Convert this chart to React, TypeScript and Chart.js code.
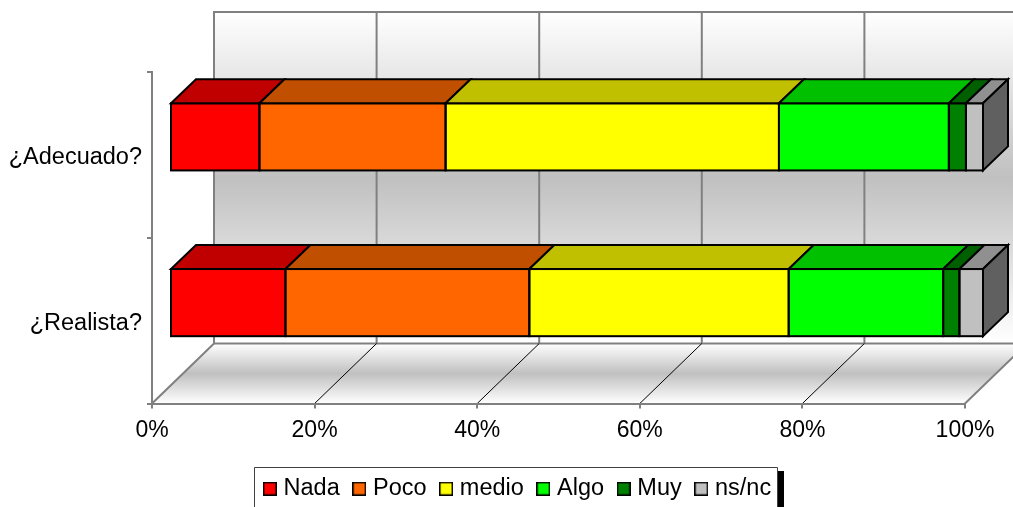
import React, { useEffect, useRef } from "react";
import { Chart, registerables } from "chart.js";

Chart.register(...registerables);

const categories = ["¿Adecuado?", "¿Realista?"];
const nada = [11, 14.2];
const poco = [22.9, 30];
const medio = [41, 31.9];
const algo = [20.9, 19];
const muy = [2.1, 2];
const nsnc = [2.1, 2.9];
const tickValues = [0, 20, 40, 60, 80, 100];

const seriesNames = ["Nada", "Poco", "medio", "Algo", "Muy", "ns/nc"];
const seriesValues = [nada, poco, medio, algo, muy, nsnc];
const frontColors = ["#ff0000", "#ff6600", "#ffff00", "#00ff00", "#008000", "#c0c0c0"];
const topColors = ["#c00000", "#c05000", "#c0c000", "#00c000", "#006000", "#909090"];
const sideColor = "#606060";

const FONT = '"Liberation Sans", Arial, sans-serif';
const WALL_DX = 62;
const WALL_DY = -60;
const BAR_DX = 18;
const BAR_DY = -18;
const DEPTH_X = 25;
const DEPTH_Y = -24;
const GRID = "#808080";

function swatch(color: string) {
  const c = document.createElement("canvas");
  c.width = 14;
  c.height = 14;
  const g = c.getContext("2d")!;
  g.fillStyle = "#000";
  g.fillRect(0, 0, 14, 14);
  g.fillStyle = color;
  g.fillRect(1.5, 1.5, 11, 11);
  return c;
}

const scene3d = {
  id: "scene3d",
  afterLayout(chart: any) {
    // let the long category labels extend beyond the axis box instead of being clipped
    chart.scales.y.left = 0;
  },
  beforeDraw(chart: any) {
    const { ctx, chartArea, scales } = chart;
    const { left, right, top, bottom } = chartArea;
    const wallTop = top + WALL_DY;
    const wallBottom = bottom + WALL_DY;
    ctx.save();
    // back wall
    const wg = ctx.createLinearGradient(0, wallTop, 0, wallBottom);
    wg.addColorStop(0, "#ffffff");
    wg.addColorStop(0.5, "#c0c0c0");
    wg.addColorStop(1, "#ffffff");
    ctx.fillStyle = wg;
    ctx.fillRect(left + WALL_DX, wallTop, right - left, bottom - top);
    // floor
    const fg = ctx.createLinearGradient(0, wallBottom, 0, bottom);
    fg.addColorStop(0, "#ffffff");
    fg.addColorStop(0.5, "#c0c0c0");
    fg.addColorStop(1, "#ffffff");
    ctx.fillStyle = fg;
    ctx.beginPath();
    ctx.moveTo(left, bottom);
    ctx.lineTo(right, bottom);
    ctx.lineTo(right + WALL_DX, wallBottom);
    ctx.lineTo(left + WALL_DX, wallBottom);
    ctx.closePath();
    ctx.fill();
    // wall outline and vertical grid
    ctx.strokeStyle = GRID;
    ctx.lineWidth = 2;
    ctx.strokeRect(left + WALL_DX, wallTop, right - left, bottom - top);
    for (const v of tickValues.slice(1, -1)) {
      const x = scales.x.getPixelForValue(v) + WALL_DX;
      ctx.beginPath();
      ctx.moveTo(x, wallTop);
      ctx.lineTo(x, wallBottom);
      ctx.stroke();
    }
    // floor edges
    ctx.beginPath();
    ctx.moveTo(left, bottom);
    ctx.lineTo(left + WALL_DX, wallBottom);
    ctx.moveTo(right, bottom);
    ctx.lineTo(right + WALL_DX, wallBottom);
    ctx.stroke();
    // floor grid
    ctx.strokeStyle = "#000";
    ctx.lineWidth = 1;
    for (const v of tickValues.slice(1, -1)) {
      const x = scales.x.getPixelForValue(v);
      ctx.beginPath();
      ctx.moveTo(x, bottom);
      ctx.lineTo(x + WALL_DX, wallBottom);
      ctx.stroke();
    }
    ctx.restore();
  },
  beforeDatasetsDraw(chart: any) {
    chart.ctx.save();
    chart.ctx.translate(BAR_DX, BAR_DY);
  },
  afterDatasetsDraw(chart: any) {
    const ctx = chart.ctx;
    ctx.lineWidth = 2;
    ctx.strokeStyle = "#000";
    ctx.lineJoin = "miter";
    const n = chart.data.datasets.length;
    chart.data.datasets.forEach((_: any, di: number) => {
      chart.getDatasetMeta(di).data.forEach((el: any) => {
        const x0 = el.base;
        const x1 = el.x;
        const y0 = el.y - el.height / 2;
        const y1 = el.y + el.height / 2;
        ctx.strokeRect(x0, y0, x1 - x0, y1 - y0);
        ctx.beginPath();
        ctx.moveTo(x0, y0);
        ctx.lineTo(x1, y0);
        ctx.lineTo(x1 + DEPTH_X, y0 + DEPTH_Y);
        ctx.lineTo(x0 + DEPTH_X, y0 + DEPTH_Y);
        ctx.closePath();
        ctx.fillStyle = topColors[di];
        ctx.fill();
        ctx.stroke();
        if (di === n - 1) {
          ctx.beginPath();
          ctx.moveTo(x1, y0);
          ctx.lineTo(x1 + DEPTH_X, y0 + DEPTH_Y);
          ctx.lineTo(x1 + DEPTH_X, y1 + DEPTH_Y);
          ctx.lineTo(x1, y1);
          ctx.closePath();
          ctx.fillStyle = sideColor;
          ctx.fill();
          ctx.stroke();
        }
      });
    });
    ctx.restore();
  },
  afterDraw(chart: any) {
    const ctx = chart.ctx;
    ctx.save();
    ctx.strokeStyle = "#404040";
    ctx.lineWidth = 1;
    ctx.beginPath();
    ctx.moveTo(254.5, 507);
    ctx.lineTo(254.5, 467.5);
    ctx.lineTo(777.5, 467.5);
    ctx.lineTo(777.5, 507);
    ctx.stroke();
    ctx.fillStyle = "#000";
    ctx.fillRect(778, 471, 6, 36);
    ctx.restore();
  },
};

export default function App() {
  const ref = useRef<HTMLCanvasElement>(null);
  useEffect(() => {
    document.body.style.margin = "0";
    const chart = new Chart(ref.current!, {
      type: "bar",
      data: {
        labels: categories,
        datasets: seriesNames.map((name, i) => ({
          label: name,
          data: seriesValues[i],
          backgroundColor: frontColors[i],
          borderWidth: 0,
          inflateAmount: 0,
          barPercentage: 0.405,
          categoryPercentage: 1,
          clip: false,
        })),
      } as any,
      options: {
        indexAxis: "y",
        responsive: false,
        animation: false,
        layout: { padding: { left: 74, right: 48, top: 72, bottom: -3.5 } },
        scales: {
          x: {
            stacked: true,
            min: 0,
            max: 100,
            afterFit: (s: any) => { s.height = 56; },
            afterBuildTicks: (s: any) => { s.ticks = tickValues.map((value) => ({ value })); },
            grid: { drawOnChartArea: false, color: GRID, lineWidth: 2, tickLength: 5 },
            border: { color: GRID, width: 2 },
            ticks: {
              color: "#000",
              font: { family: FONT, size: 23 },
              padding: 8,
              maxRotation: 0,
              autoSkip: false,
              callback: (v: any) => v + "%",
            },
          },
          y: {
            stacked: true,
            afterFit: (s: any) => { s.width = 78; },
            grid: { drawOnChartArea: false, color: GRID, lineWidth: 2, tickLength: 5, offset: true },
            border: { color: GRID, width: 2 },
            ticks: { color: "#000", font: { family: FONT, size: 23.5 }, padding: 5, labelOffset: 3 },
          },
        },
        plugins: {
          tooltip: { enabled: false },
          legend: {
            position: "bottom",
            labels: {
              usePointStyle: true,
              pointStyleWidth: 4,
              boxHeight: 14,
              padding: 17.5,
              color: "#000",
              font: { family: FONT, size: 23.5 },
              generateLabels: (c: any) =>
                c.data.datasets.map((d: any, i: number) => ({
                  text: d.label,
                  datasetIndex: i,
                  pointStyle: swatch(frontColors[i]),
                  fillStyle: frontColors[i],
                  strokeStyle: "#000",
                  lineWidth: 0,
                  hidden: false,
                  fontColor: "#000",
                })),
            },
          },
        },
      } as any,
      plugins: [scene3d],
    });
    return () => chart.destroy();
  }, []);
  return <canvas ref={ref} width={1013} height={507} style={{ display: "block" }} />;
}
